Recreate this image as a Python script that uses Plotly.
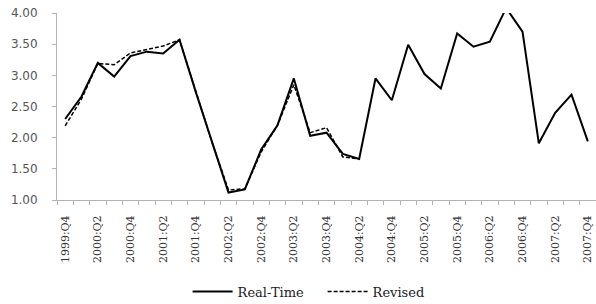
import plotly.graph_objects as go

quarters = ["1999:Q4"] + [f"{y}:Q{q}" for y in range(2000, 2008) for q in range(1, 5)]
real_time = [2.30, 2.66, 3.20, 2.98, 3.31, 3.38, 3.35, 3.57, 2.73, 1.92, 1.12,
             1.17, 1.81, 2.20, 2.95, 2.03, 2.08, 1.74, 1.66, 2.95, 2.60, 3.49,
             3.02, 2.79, 3.67, 3.46, 3.54, 4.08, 3.70, 1.91, 2.40, 2.69, 1.94]
revised = [2.19, 2.62, 3.19, 3.17, 3.36, 3.42, 3.47, 3.57, 2.73, 1.92, 1.16,
           1.18, 1.77, 2.20, 2.85, 2.08, 2.16, 1.69, 1.66]
y_ticks = [1.0, 1.5, 2.0, 2.5, 3.0, 3.5, 4.0]

xpos = list(range(len(quarters)))
label_idx = [i for i in xpos if i % 2 == 0]

fig = go.Figure()
fig.add_trace(go.Scatter(x=xpos, y=real_time, mode="lines", name="Real-Time",
                         line=dict(color="black", width=2), cliponaxis=False))
fig.add_trace(go.Scatter(x=xpos[:len(revised)], y=revised, mode="lines", name="Revised",
                         line=dict(color="black", width=1.5, dash="4px,2px"), cliponaxis=False))

fig.update_layout(
    width=596, height=304,
    margin=dict(l=57, r=0, t=13, b=104, autoexpand=False),
    paper_bgcolor="white", plot_bgcolor="white",
    showlegend=True,
    legend=dict(orientation="h", x=0.2423, xanchor="left", y=-0.49, yanchor="middle",
                font=dict(family="DejaVu Serif", size=13, color="#222222"),
                itemwidth=40, entrywidth=80, tracegroupgap=0),
    xaxis=dict(range=[-0.5, len(quarters) - 0.5], showgrid=False, zeroline=False,
               automargin=False,
               showline=True, linecolor="#b3b3b3", linewidth=1,
               tickmode="array", tickvals=label_idx,
               ticktext=[quarters[i] for i in label_idx],
               tickangle=-90, ticks="", ticklabelstandoff=10,
               tickfont=dict(family="DejaVu Serif", size=11, color="#333333"),
               minor=dict(tick0=-0.5, dtick=1, ticks="outside", ticklen=4,
                          tickcolor="#b3b3b3", showgrid=False)),
    yaxis=dict(range=[1, 4], showgrid=False, zeroline=False,
               automargin=False,
               showline=True, linecolor="#b3b3b3", linewidth=1,
               tickmode="array", tickvals=y_ticks,
               ticktext=[f"{v:.2f}" for v in y_ticks],
               ticks="outside", ticklen=4, tickcolor="#b3b3b3",
               ticklabelstandoff=12,
               tickfont=dict(family="DejaVu Sans", size=12, color="#555555")),
)

fig.write_html("out.html", config={"displayModeBar": False, "staticPlot": True},
               post_script="document.body.style.margin='0px';document.body.style.overflow='hidden';")
